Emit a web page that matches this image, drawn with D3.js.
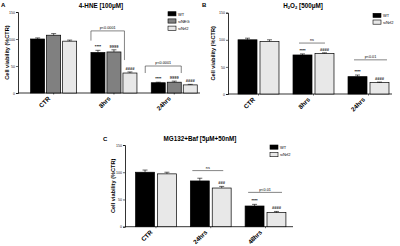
<!DOCTYPE html>
<html>
<head>
<meta charset="utf-8">
<script src="https://cdn.jsdelivr.net/npm/d3@7"></script>
<style>
  body { margin: 0; background: #fff; }
  svg { display: block; font-family: "Liberation Sans", Arial, sans-serif; }
</style>
</head>
<body>
<svg id="chart" width="400" height="246"></svg>
<script>
// ---- data ----
// Panel A: 4-HNE
const groupsA = ["CTR", "8hrs", "24hrs"];
const seriesA = ["WT", "siNEG", "siNrf2"];
const wtA = [100, 75, 19];
const siNEGA = [107, 76, 20];
const siNrf2A = [96, 37, 15];
const wtErrA = [2, 4, 1];
const siNEGErrA = [3, 4, 2];
const siNrf2ErrA = [2, 2, 1];
const marksA = [["", "", ""], ["****", "§§§§", "####"], ["****", "§§§§", "####"]];

// Panel B: H2O2
const groupsB = ["CTR", "8hrs", "24hrs"];
const seriesB = ["WT", "siNrf2"];
const wtB = [100, 72, 32];
const siNrf2B = [97, 75, 21];
const wtErrB = [3, 2, 3];
const siNrf2ErrB = [3, 1, 1];
const marksB = [["", ""], ["****", "####"], ["****", "####"]];

// Panel C: MG132+Baf
const groupsC = ["CTR", "24hrs", "48hrs"];
const seriesC = ["WT", "siNrf2"];
const wtC = [100, 84, 38];
const siNrf2C = [97, 71, 26];
const wtErrC = [4, 5, 3];
const siNrf2ErrC = [3, 3, 2];
const marksC = [["", ""], ["", "###"], ["****", "####"]];

const yTicks = [0, 50, 100, 150];
const fills = { "WT": "#000000", "siNEG": "#808080", "siNrf2": "#e8e8e8" };

const svg = d3.select("#chart");

function drawPanel(p) {
  const g = svg.append("g");
  const y = d3.scaleLinear().domain([0, 150]).range(p.yRange);
  const x = d3.scaleBand().domain(p.groups).range(p.xRange)
    .paddingInner(p.padIn).paddingOuter(p.padIn / 2);
  const xi = d3.scaleBand().domain(p.series).range([0, x.bandwidth()])
    .paddingInner(p.barGap);
  const y0 = y(0);

  // y axis
  const ya = g.append("g")
    .attr("transform", "translate(" + p.axisX + ",0)")
    .call(d3.axisLeft(y).tickValues(yTicks).tickSize(2).tickPadding(1));
  ya.select(".domain").attr("stroke", "#000").attr("stroke-width", 0.8);
  ya.selectAll("line").attr("stroke-width", 0.6);
  ya.selectAll("text").attr("font-size", "3.6px").attr("fill", "#222");

  // x axis
  const xa = g.append("g")
    .attr("transform", "translate(0," + y0 + ")")
    .call(d3.axisBottom(x).tickSize(1.5).tickFormat(""));
  xa.select(".domain").attr("d", "M" + p.axisX + ",0H" + p.axisEnd)
    .attr("stroke", "#000").attr("stroke-width", 0.8);
  xa.selectAll("line").attr("stroke-width", 0.6);

  g.selectAll("text.xlab").data(p.groups).enter().append("text")
    .attr("class", "xlab")
    .attr("text-anchor", "end")
    .attr("font-size", "6.3px").attr("font-weight", "bold")
    .attr("transform", (d) => "translate(" + (x(d) + x.bandwidth() / 2 - 3) + "," + (y0 + 6) + ") rotate(-45)")
    .text((d) => d);

  // bars, error bars, marks
  p.series.forEach(function (s, si) {
    const vals = p.values[si];
    const errs = p.errors[si];
    const bg = g.append("g");
    bg.selectAll("rect").data(p.groups).enter().append("rect")
      .attr("x", (d) => x(d) + xi(s))
      .attr("y", (d, i) => y(vals[i]))
      .attr("width", xi.bandwidth())
      .attr("height", (d, i) => y0 - y(vals[i]))
      .attr("fill", fills[s])
      .attr("stroke", "#000").attr("stroke-width", 0.7);
    bg.selectAll("path.err").data(p.groups).enter().append("path")
      .attr("class", "err")
      .attr("d", function (d, i) {
        const cx = x(d) + xi(s) + xi.bandwidth() / 2;
        const t = y(vals[i] + errs[i]);
        return "M" + cx + "," + y(vals[i]) + "V" + t + "M" + (cx - 2.5) + "," + t + "H" + (cx + 2.5);
      })
      .attr("stroke", "#000").attr("stroke-width", 0.6).attr("fill", "none");
    bg.selectAll("text.mark").data(p.groups).enter().append("text")
      .attr("class", "mark")
      .attr("x", (d) => x(d) + xi(s) + xi.bandwidth() / 2)
      .attr("y", (d, i) => y(vals[i] + errs[i]) - 2)
      .attr("text-anchor", "middle")
      .attr("font-size", "4px").attr("font-weight", "bold")
      .text((d, gi) => p.marks[gi][si]);
  });

  // brackets
  p.brackets.forEach(function (b) {
    const xl = x(b.group) + xi(p.series[b.from]) + b.dx1;
    const xr = x(b.group) + xi(p.series[b.to]) + b.dx2;
    const yt = y(b.at);
    let d = "M" + xl + "," + yt + "H" + xr;
    if (b.legs) d = "M" + xl + "," + y(b.legs[0]) + "V" + yt + "H" + xr + "V" + y(b.legs[1]);
    g.append("path").attr("d", d).attr("fill", "none")
      .attr("stroke", "#333").attr("stroke-width", 0.6);
    g.append("text")
      .attr("x", (xl + xr) / 2).attr("y", yt - 1.8)
      .attr("text-anchor", "middle").attr("font-size", "3.8px")
      .text(b.label);
  });

  // y label
  g.append("text")
    .attr("transform", "translate(" + p.ylabX + "," + ((p.yRange[0] + p.yRange[1]) / 2) + ") rotate(-90)")
    .attr("text-anchor", "middle").attr("font-size", "5.6px").attr("font-weight", "bold")
    .text("Cell viability (%CTR)");

  // title and panel letter
  const tt = g.append("text")
    .attr("x", p.titleX).attr("y", p.titleY)
    .attr("text-anchor", "middle").attr("font-size", "6.3px").attr("font-weight", "bold");
  p.title.forEach(function (part) {
    const ts = tt.append("tspan").text(part.t);
    if (part.sub) ts.attr("font-size", "4.2px").attr("dy", "1.2");
    if (part.up) ts.attr("dy", "-1.2");
  });
  g.append("text").attr("x", p.letter[1]).attr("y", p.letter[2])
    .attr("font-size", "6px").attr("font-weight", "bold").text(p.letter[0]);

  // legend
  p.series.forEach(function (s, i) {
    const ly = p.legend[1] + i * p.legend[2];
    g.append("rect").attr("x", p.legend[0]).attr("y", ly)
      .attr("width", 8).attr("height", 4.2)
      .attr("fill", fills[s]).attr("stroke", "#000").attr("stroke-width", 0.6);
    g.append("text").attr("x", p.legend[0] + 10).attr("y", ly + 3.8)
      .attr("font-size", "4px").text(s);
  });
}

drawPanel({
  groups: groupsA, series: seriesA,
  values: [wtA, siNEGA, siNrf2A], errors: [wtErrA, siNEGErrA, siNrf2ErrA], marks: marksA,
  yRange: [93, 12], xRange: [23.5, 204.4], padIn: 0.237, barGap: 0.125,
  axisX: 18, axisEnd: 200, ylabX: 8.5,
  title: [{ t: "4-HNE [100μM]" }], titleX: 101, titleY: 8, letter: ["A", 1, 7],
  legend: [168, 11.7, 7.2],
  brackets: [
    { group: "8hrs", from: 0, to: 2, at: 115, legs: [97, 61], dx1: 0, dx2: 1.5, label: "p<0.0001" },
    { group: "24hrs", from: 0, to: 2, at: 50, legs: [37, 37], dx1: -6, dx2: -2, label: "p<0.0001" }
  ]
});

drawPanel({
  groups: groupsB, series: seriesB,
  values: [wtB, siNrf2B], errors: [wtErrB, siNrf2ErrB], marks: marksB,
  yRange: [94, 12.7], xRange: [231, 396], padIn: 0.255, barGap: 0.136,
  axisX: 228, axisEnd: 392, ylabX: 215,
  title: [{ t: "H" }, { t: "2", sub: true }, { t: "O", up: true }, { t: "2", sub: true }, { t: " [500μM]", up: true }],
  titleX: 303, titleY: 8, letter: ["B", 202, 7],
  legend: [373, 13.3, 6.7],
  brackets: [
    { group: "8hrs", from: 0, to: 1, at: 94, dx1: 6, dx2: 10, label: "ns" },
    { group: "24hrs", from: 0, to: 1, at: 63, dx1: 6, dx2: 17, label: "p<0.01" }
  ]
});

drawPanel({
  groups: groupsC, series: seriesC,
  values: [wtC, siNrf2C], errors: [wtErrC, siNrf2ErrC], marks: marksC,
  yRange: [226.7, 145], xRange: [128.6, 292.9], padIn: 0.255, barGap: 0.136,
  axisX: 125, axisEnd: 293, ylabX: 115,
  title: [{ t: "MG132+Baf [5μM+50nM]" }], titleX: 200, titleY: 141, letter: ["C", 103, 141],
  legend: [270, 145, 7.5],
  brackets: [
    { group: "24hrs", from: 0, to: 1, at: 103, dx1: 2, dx2: 11, label: "ns" },
    { group: "48hrs", from: 0, to: 1, at: 63, dx1: 3, dx2: 15, label: "p<0.01" }
  ]
});
</script>
</body>
</html>
